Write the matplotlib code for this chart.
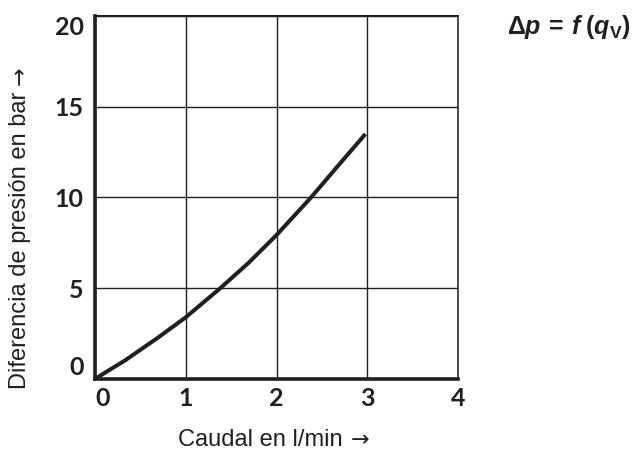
import matplotlib
matplotlib.use("Agg")
import matplotlib.pyplot as plt

# Data
flow = [0, 0.15, 0.33, 0.70, 1.0, 1.38, 1.69, 2.0, 2.38, 2.67, 2.98]
dp = [0, 0.47, 1.02, 2.30, 3.40, 5.0, 6.39, 7.93, 10.0, 11.7, 13.5]
xticks = [0, 1, 2, 3, 4]
yticks = [0, 5, 10, 15, 20]
xlabel = "Caudal en l/min"
ylabel = "Diferencia de presi\u00f3n en bar"
arrow = "\u2192"

plt.rcParams['mathtext.fontset'] = 'custom'
plt.rcParams['mathtext.rm'] = 'Liberation Sans:bold'
plt.rcParams['mathtext.it'] = 'Liberation Sans:italic:bold'
plt.rcParams['mathtext.bf'] = 'Liberation Sans:bold'

ink = '#231f20'
fig = plt.figure(figsize=(6.33, 4.57), dpi=100)
ax = fig.add_axes([95/633, 1-379/457, (458-95)/633, (379-16)/457])

ax.plot(flow, dp, color=ink, lw=2.9, solid_capstyle='butt', solid_joinstyle='round')

ax.set_xlim(0, 4)
ax.set_ylim(0, 20)
ax.set_xticks(xticks)
ax.set_yticks(yticks)
ax.set_xticklabels([str(v) for v in xticks])
ax.set_yticklabels([str(v) for v in yticks])
ax.grid(True, color=ink, lw=1.0)
ax.set_axisbelow(True)
ax.tick_params(axis='y', length=0, pad=8)
ax.tick_params(axis='x', length=0, pad=6)
for lab in ax.get_xticklabels() + ax.get_yticklabels():
    lab.set_fontfamily('Lato')
    lab.set_fontweight('bold')
    lab.set_fontsize(18)
    lab.set_color(ink)
ylabs = ax.get_yticklabels()
ylabs[0].set_va('bottom')
ylabs[-1].set_va('top')
xlabs = ax.get_xticklabels()
xlabs[0].set_ha('left')

for s in ['left', 'bottom']:
    ax.spines[s].set_linewidth(2.6)
    ax.spines[s].set_color(ink)
ax.spines['top'].set_linewidth(1.5)
ax.spines['right'].set_linewidth(1.1)
for s in ['top', 'right']:
    ax.spines[s].set_color(ink)

# x label + arrow
tx = fig.text(178/633, 1-440/457, xlabel, ha='left', va='center',
              fontfamily='Liberation Sans', fontsize=17, color=ink)
ax.annotate(arrow, xy=(1, 0.5), xycoords=tx, xytext=(6, 0), textcoords='offset points',
            ha='left', va='center', fontfamily='DejaVu Sans', fontsize=16, color=ink)

# y label + arrow
ty = fig.text(20/633, 1-389/457, ylabel, ha='center', va='bottom', rotation=90,
              fontfamily='Liberation Sans', fontsize=17, color=ink)
ax.annotate(arrow, xy=(0.5, 1), xycoords=ty, xytext=(0, 5), textcoords='offset points',
            ha='center', va='bottom', rotation=90,
            fontfamily='DejaVu Sans', fontsize=16, color=ink)

fig.text(631/633, 1-27/457, r'$\Delta p\,=\,f\;(q_{\mathrm{V}})$', ha='right',
         va='center', fontsize=18, color=ink)

fig.savefig('out.png', dpi=100)
